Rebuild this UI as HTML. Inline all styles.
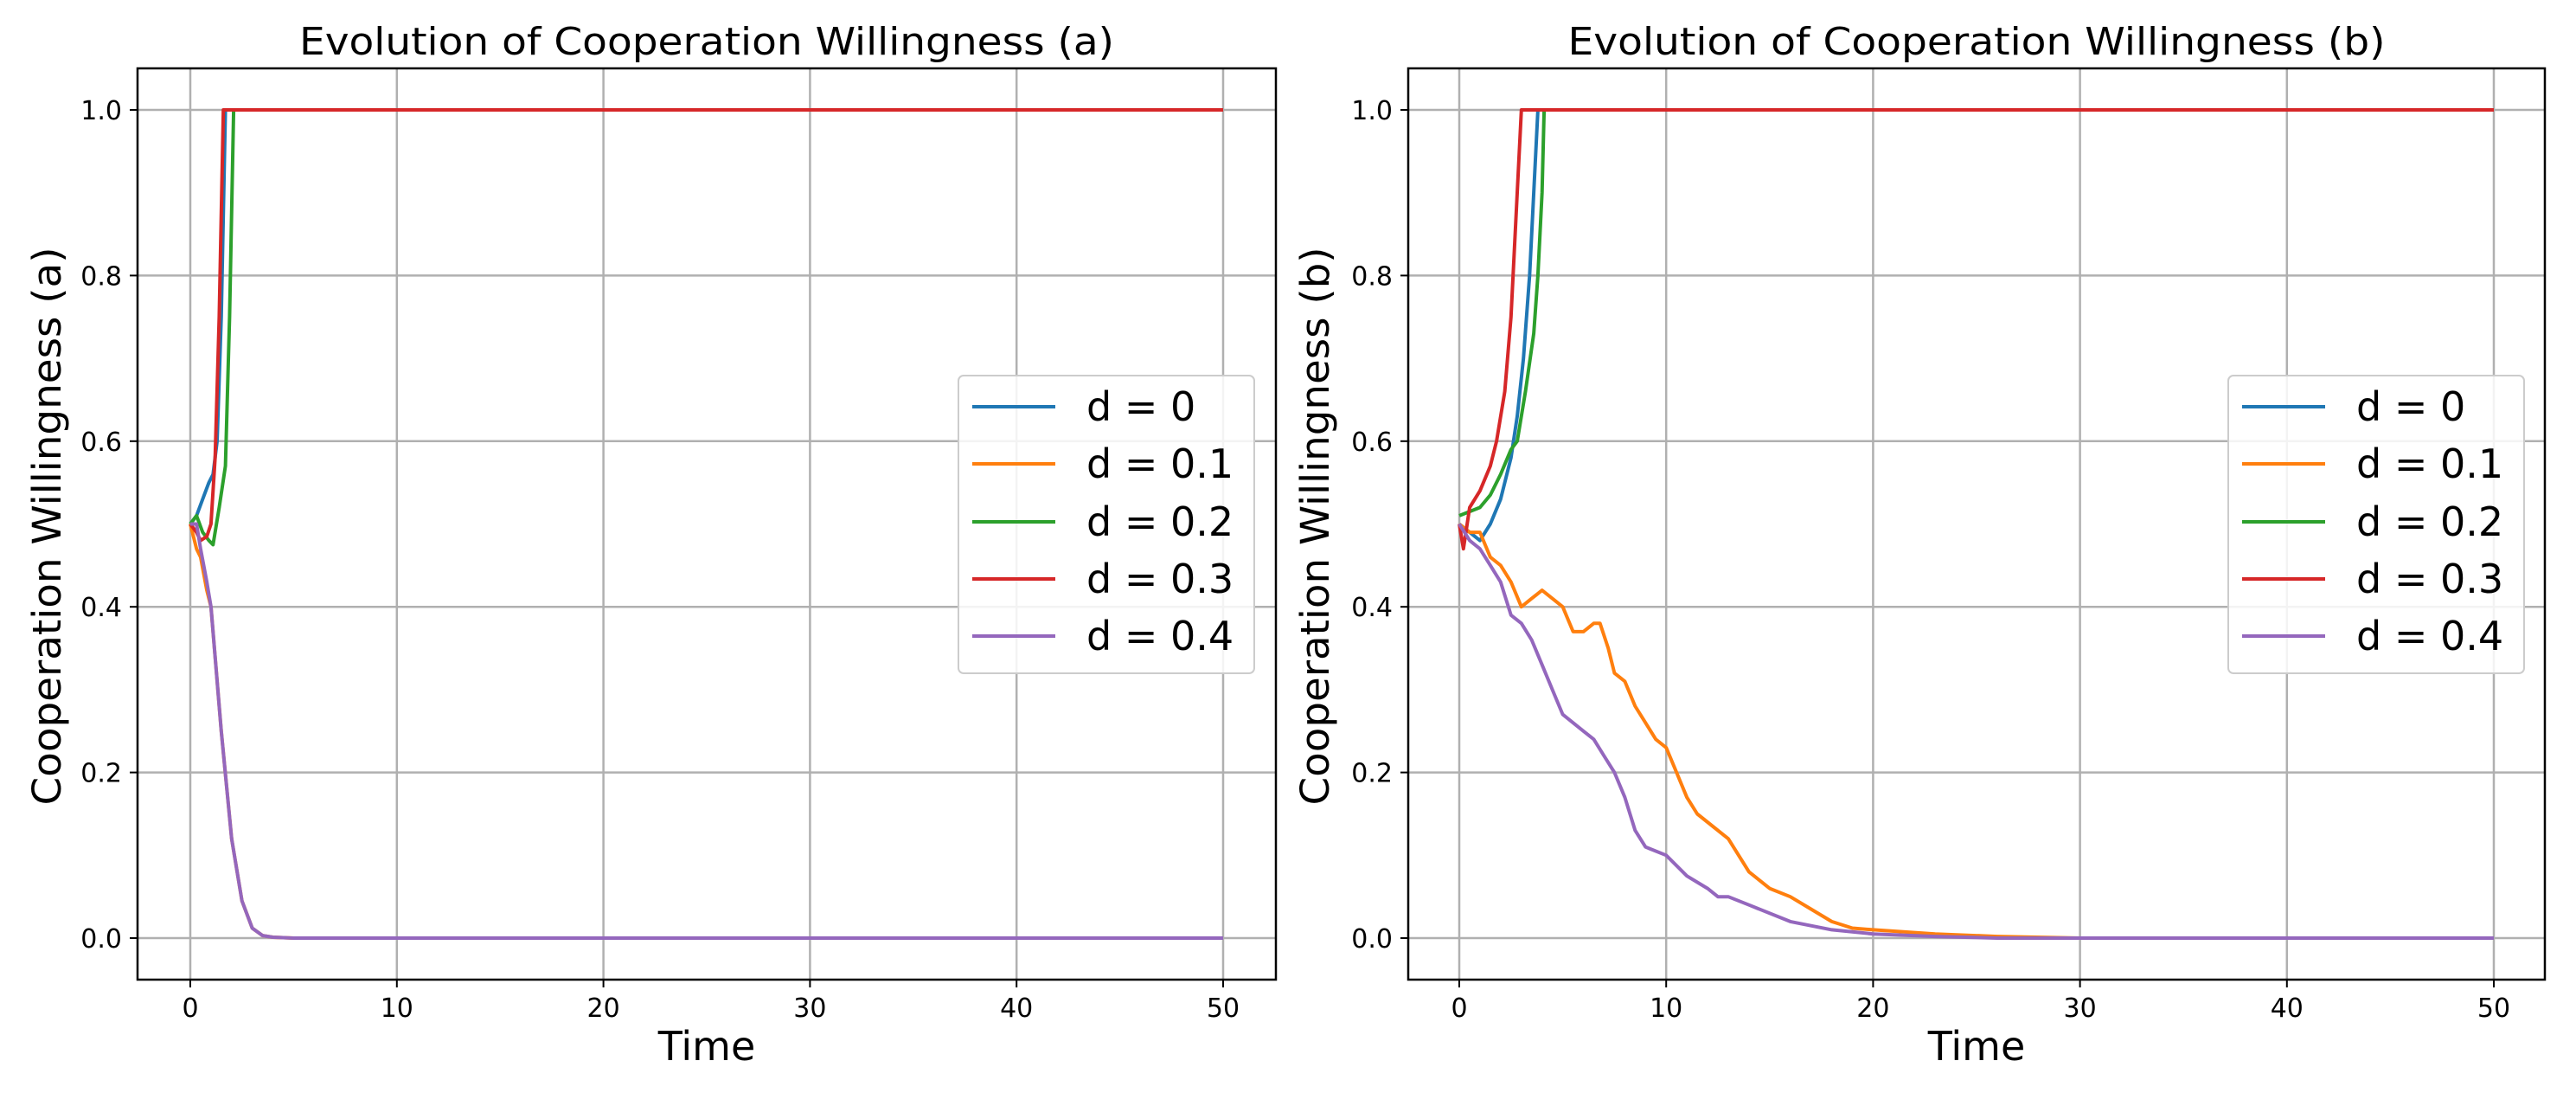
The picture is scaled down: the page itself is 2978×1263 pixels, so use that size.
<!DOCTYPE html>
<html><head><meta charset="utf-8">
<style>
html,body{margin:0;padding:0;background:#fff;overflow:hidden;}
svg{display:block;font-family:"DejaVu Sans","Liberation Sans",sans-serif;}
</style></head>
<body>
<svg id="fig" width="2978" height="1263" viewBox="0 0 2978 1263" xmlns="http://www.w3.org/2000/svg"></svg>
<script>
const seriesNames = ["d = 0","d = 0.1","d = 0.2","d = 0.3","d = 0.4"];
const seriesColors = ["#1f77b4","#ff7f0e","#2ca02c","#d62728","#9467bd"];
const xTicks = [0,10,20,30,40,50];
const yTicks = [0,0.2,0.4,0.6,0.8,1.0];
const yTickLabels = ["0.0","0.2","0.4","0.6","0.8","1.0"];
// Panel (a) data
const aT0 = [0,0.3,0.6,0.9,1.1,1.3,1.5,1.7,50];
const aV0 = [0.5,0.51,0.53,0.55,0.56,0.6,0.75,1.0,1.0];
const aT1 = [0,0.3,0.5,0.8,1.0,1.5,2,2.5,3,3.5,4,5,50];
const aV1 = [0.5,0.47,0.46,0.42,0.4,0.25,0.12,0.045,0.012,0.003,0.001,0,0];
const aT2 = [0,0.3,0.6,0.9,1.1,1.4,1.7,1.9,2.1,50];
const aV2 = [0.5,0.51,0.49,0.48,0.475,0.52,0.57,0.75,1.0,1.0];
const aT3 = [0,0.3,0.5,0.8,1.0,1.2,1.4,1.6,50];
const aV3 = [0.5,0.49,0.48,0.485,0.5,0.58,0.75,1.0,1.0];
const aT4 = [0,0.3,0.5,0.8,1.0,1.5,2,2.5,3,3.5,4,5,50];
const aV4 = [0.5,0.5,0.47,0.43,0.4,0.25,0.12,0.045,0.012,0.003,0.001,0,0];
// Panel (b) data
const bT0 = [0,0.5,1,1.5,2,2.5,2.8,3.1,3.4,3.6,3.8,50];
const bV0 = [0.5,0.49,0.48,0.5,0.53,0.58,0.63,0.7,0.8,0.9,1.0,1.0];
const bT1 = [0,0.5,1,1.5,2,2.5,3,3.5,4,4.5,5,5.5,6,6.5,6.8,7.2,7.5,8,8.5,9,9.5,10,10.5,11,11.5,12,13,14,15,16,17,18,19,20,23,26,30,50];
const bV1 = [0.5,0.49,0.49,0.46,0.45,0.43,0.4,0.41,0.42,0.41,0.4,0.37,0.37,0.38,0.38,0.35,0.32,0.31,0.28,0.26,0.24,0.23,0.2,0.17,0.15,0.14,0.12,0.08,0.06,0.05,0.035,0.02,0.012,0.01,0.005,0.002,0,0];
const bT2 = [0,0.5,1,1.5,2,2.5,2.8,3.2,3.6,3.8,4.0,4.1,50];
const bV2 = [0.51,0.515,0.52,0.535,0.56,0.59,0.6,0.66,0.73,0.8,0.9,1.0,1.0];
const bT3 = [0,0.2,0.5,1,1.5,1.8,2.2,2.5,2.8,3.0,50];
const bV3 = [0.5,0.47,0.52,0.54,0.57,0.6,0.66,0.75,0.9,1.0,1.0];
const bT4 = [0,0.5,1,1.5,2,2.5,3,3.5,4,4.5,5,6,6.5,7,7.5,8,8.5,9,10,11,12,12.5,13,14,16,18,20,23,26,50];
const bV4 = [0.5,0.48,0.47,0.45,0.43,0.39,0.38,0.36,0.33,0.3,0.27,0.25,0.24,0.22,0.2,0.17,0.13,0.11,0.1,0.075,0.06,0.05,0.05,0.04,0.02,0.01,0.005,0.002,0,0];

const NS="http://www.w3.org/2000/svg";
const svg=document.getElementById('fig');
function mk(tag,attrs,parent){const e=document.createElementNS(NS,tag);for(const k in attrs)e.setAttribute(k,attrs[k]);(parent||svg).appendChild(e);return e;}

function panel(cfg){
  const g=mk('g',{});
  
  
  const L=cfg.left,R=cfg.right,T=79,B=1132;
  const x0=cfg.x0,x50=cfg.x50;
  const Y0=1084,Y1=127;
  const sx=v=>x0+(x50-x0)*v/50;
  const sy=v=>Y0-(Y0-Y1)*v;
  xTicks.forEach(t=>{const l=mk('line',{x1:sx(t),x2:sx(t),y1:T,y2:B,stroke:'#b0b0b0','stroke-width':2.5},g);
    });
  yTicks.forEach(t=>{const l=mk('line',{x1:L,x2:R,y1:sy(t),y2:sy(t),stroke:'#b0b0b0','stroke-width':2.5},g);
    });
  cfg.data.forEach((d,i)=>{
    const pts=d[0].map((t,j)=>sx(t).toFixed(1)+','+sy(d[1][j]).toFixed(1)).join(' ');
    const p=mk('polyline',{points:pts,fill:'none',stroke:seriesColors[i],'stroke-width':4,'stroke-linejoin':'round'},g);
    
    
  });
  const f=mk('rect',{x:L,y:T,width:R-L,height:B-T,fill:'none',stroke:'#000','stroke-width':2.5},g);
  
  xTicks.forEach(t=>{
    mk('line',{x1:sx(t),x2:sx(t),y1:B,y2:B+9,stroke:'#000','stroke-width':2},g);
    const tx=mk('text',{x:sx(t),y:1175,'text-anchor':'middle','font-size':30,fill:'#000'},g);
    tx.textContent=t;
    
  });
  yTicks.forEach((t,i)=>{
    mk('line',{x1:L-9,x2:L,y1:sy(t),y2:sy(t),stroke:'#000','stroke-width':2},g);
    const tx=mk('text',{x:L-18,y:sy(t)+11,'text-anchor':'end','font-size':30,fill:'#000'},g);
    tx.textContent=yTickLabels[i];
    
  });
  const ti=mk('text',{x:(L+R)/2,y:63,'text-anchor':'middle','font-size':44,fill:'#000',textLength:cfg.titleW,lengthAdjust:'spacingAndGlyphs'},g);
  ti.textContent=cfg.title;
  const xl=mk('text',{x:(L+R)/2,y:1225,'text-anchor':'middle','font-size':46,fill:'#000'},g);
  xl.textContent='Time';
  const yl=mk('text',{x:0,y:0,'text-anchor':'middle','font-size':45,fill:'#000',textLength:645,lengthAdjust:'spacingAndGlyphs',transform:`translate(${cfg.ylx},608) rotate(-90)`},g);
  yl.textContent=cfg.ylabel;
  const lg=mk('g',{},g);
  
  mk('rect',{x:cfg.legX,y:434,width:342,height:344,rx:6,fill:'#fff','fill-opacity':0.85,stroke:'#ccc','stroke-width':2},lg);
  const rows=[470,536,603,669,735];
  seriesNames.forEach((n,i)=>{
    const e=mk('g',{},lg);
    
    mk('line',{x1:cfg.legX+16,x2:cfg.legX+112,y1:rows[i],y2:rows[i],stroke:seriesColors[i],'stroke-width':4},e);
    const t=mk('text',{x:cfg.legX+148,y:rows[i]+16,'font-size':46,fill:'#000'},e);
    t.textContent=n;
  });
}
panel({id:'panel-a',left:159,right:1475,x0:220,x50:1414,title:'Evolution of Cooperation Willingness (a)',titleW:942,ylabel:'Cooperation Willingness (a)',ylx:70,legX:1108,
  data:[[aT0,aV0],[aT1,aV1],[aT2,aV2],[aT3,aV3],[aT4,aV4]]});
panel({id:'panel-b',left:1628,right:2942,x0:1687,x50:2883,title:'Evolution of Cooperation Willingness (b)',titleW:945,ylabel:'Cooperation Willingness (b)',ylx:1536,legX:2576,
  data:[[bT0,bV0],[bT1,bV1],[bT2,bV2],[bT3,bV3],[bT4,bV4]]});
</script>
</body></html>
